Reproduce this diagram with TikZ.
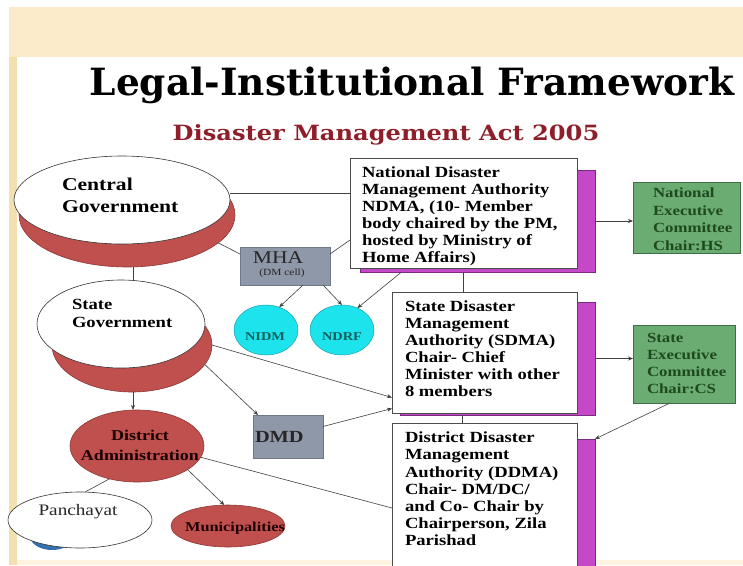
\documentclass[tikz,border=0pt]{standalone}
\usepackage{fontspec}
\usetikzlibrary{shapes.geometric,arrows.meta}
\setmainfont{Liberation Serif}
\newfontfamily\sr[FakeStretch=1.2]{Liberation Serif}
\newfontfamily\ttl{DejaVu Serif}
\newfontfamily\ttlw[FakeStretch=1.15]{DejaVu Serif}
\definecolor{redfill}{HTML}{C0504D}
\definecolor{redline}{HTML}{8C3836}
\definecolor{grayfill}{HTML}{8F98A8}
\definecolor{grayline}{HTML}{6F7888}
\definecolor{purp}{HTML}{C448C8}
\definecolor{purpline}{HTML}{7A2A80}
\definecolor{grn}{HTML}{6AAC72}
\definecolor{grnline}{HTML}{3E6E44}
\definecolor{grntext}{HTML}{1E4A1E}
\definecolor{cyn}{HTML}{1DE4EC}
\definecolor{cynline}{HTML}{1AA0B0}
\definecolor{cyntext}{HTML}{14605E}
\definecolor{ttlred}{HTML}{8E1F2A}
\definecolor{peach}{HTML}{FCEBCA}
\definecolor{strip}{HTML}{F3E0B0}
\definecolor{conn}{HTML}{404040}
\begin{document}
\begin{tikzpicture}[x=1pt,y=-1pt,
  every node/.style={inner sep=0pt, outer sep=0pt},
  redell/.style={ellipse, fill=redfill, draw=redline, line width=0.6pt},
  whiteell/.style={ellipse, fill=white, draw=black!80, line width=0.6pt},
  graybox/.style={rectangle, fill=grayfill, draw=grayline, line width=0.6pt},
  whitebox/.style={rectangle, fill=white, draw=black!70, line width=0.6pt},
  purpbox/.style={rectangle, fill=purp, draw=purpline, line width=0.4pt},
  grnbox/.style={rectangle, fill=grn, draw=grnline, line width=0.6pt},
  cynell/.style={ellipse, fill=cyn, draw=cynline, line width=0.5pt},
  lbl/.style={align=left, anchor=north west, font=\sr\bfseries},
  ln/.style={draw=conn, line width=0.6pt},
  arr/.style={ln, -{Stealth[length=5pt,width=4pt]}}
]
\useasboundingbox (0,0) rectangle (743,565);
% background
\fill[white] (0,0) rectangle (743,565);
\fill[peach] (9,7) rectangle (743,57);
\fill[strip] (9,57) rectangle (17,565);
\fill[white] (17,57) rectangle (743,560);
\fill[peach!60] (17,560) rectangle (743,565);
% titles
\node[anchor=base, font=\ttl\bfseries\fontsize{37.5}{42}\selectfont] (title) at (412,95) {Legal-Institutional Framework};
\node[anchor=base, font=\ttlw\bfseries\fontsize{21}{24}\selectfont, text=ttlred] (subtitle) at (386,140) {Disaster Management Act 2005};

% Central government
\node[redell, minimum width=216pt, minimum height=104pt] (cgr) at (127,215) {};
\node[whiteell, minimum width=216pt, minimum height=88pt] (cg) at (122,200) {};
\node[lbl, font=\sr\bfseries\fontsize{18}{22}\selectfont] (cgt) at (62,178.5) {Central\\Government};

% State government
\node[redell, minimum width=160pt, minimum height=94pt] (sgr) at (132,345) {};
\node[whiteell, minimum width=168pt, minimum height=88pt] (sg) at (121,324) {};
\node[lbl, font=\sr\bfseries\fontsize{15.5}{18}\selectfont] (sgt) at (72,299.5) {State\\Government};

% District administration
\node[redell, minimum width=134pt, minimum height=72pt] (da) at (137,446) {};
\node[align=center, anchor=north, text=black!75!red!40!black, font=\sr\bfseries\fontsize{15}{20}\selectfont] (dat) at (140,430) {District\\Administration};

% Panchayat
\fill[blue!50!cyan!60!black!80] (52,536) ellipse (22pt and 14pt);
\node[whiteell, minimum width=144pt, minimum height=56pt] (pan) at (80,520) {};
\node[font=\sr\fontsize{16}{18}\selectfont, text=black!85] (pant) at (78,512) {Panchayat};

% Municipalities
\node[redell, minimum width=114pt, minimum height=42pt] (mun) at (228,526) {};
\node[font=\sr\bfseries\fontsize{13.6}{16}\selectfont, text=black!70!red!40!black] (munt) at (235,528) {Municipalities};

% MHA
\node[graybox, minimum width=90pt, minimum height=38pt] (mha) at (285,266) {};
\node[font=\sr\fontsize{18}{19}\selectfont, text=black!85] (mhat) at (278,258) {MHA};
\node[font=\sr\fontsize{9.5}{11}\selectfont, text=black!85] (mhac) at (282,273) {(DM cell)};

% DMD
\node[graybox, minimum width=70pt, minimum height=43pt] (dmd) at (288,436.5) {};
\node[anchor=west, font=\sr\bfseries\fontsize{17}{19}\selectfont, text=black!85] (dmdt) at (255,437) {DMD};

% NIDM, NDRF
\node[cynell, minimum width=64pt, minimum height=50pt] (nidm) at (266,330) {};
\node[font=\sr\bfseries\fontsize{12}{14}\selectfont, text=cyntext] (nidmt) at (265,337) {NIDM};
\node[cynell, minimum width=64pt, minimum height=50pt] (ndrf) at (342,330) {};
\node[font=\sr\bfseries\fontsize{12}{14}\selectfont, text=cyntext] (ndrft) at (342,337) {NDRF};

% NDMA
\node[purpbox, minimum width=235pt, minimum height=102pt] (ndmas) at (477.5,221) {};
\node[whitebox, minimum width=227pt, minimum height=110pt] (ndma) at (463.5,213) {};
\node[lbl, font=\sr\bfseries\fontsize{15.5}{17}\selectfont] (ndmat) at (362,167) {National Disaster\\Management Authority\\NDMA, (10- Member\\body chaired by the PM,\\hosted by Ministry of\\Home Affairs)};

% SDMA
\node[purpbox, minimum width=195pt, minimum height=113pt] (sdmas) at (497.5,358.5) {};
\node[whitebox, minimum width=185pt, minimum height=121pt] (sdma) at (484.5,352.5) {};
\node[lbl, font=\sr\bfseries\fontsize{15.5}{17}\selectfont] (sdmat) at (405,301) {State Disaster\\Management\\Authority (SDMA)\\Chair- Chief\\Minister with other\\8 members};

% DDMA
\node[purpbox, minimum width=18pt, minimum height=136pt] (ddmas) at (586,507) {};
\node[whitebox, minimum width=185pt, minimum height=152pt] (ddma) at (484.5,499) {};
\node[lbl, font=\sr\bfseries\fontsize{15.5}{17.2}\selectfont] (ddmat) at (405,432) {District Disaster\\Management\\Authority (DDMA)\\Chair- DM/DC/\\and Co- Chair by\\Chairperson, Zila\\Parishad};

% Executive committees
\node[grnbox, minimum width=107pt, minimum height=71pt] (nec) at (686.5,217.5) {};
\node[lbl, font=\sr\bfseries\fontsize{14}{17.6}\selectfont, text=grntext] (nect) at (653,188) {National\\Executive\\Committee\\Chair:HS};
\node[grnbox, minimum width=102pt, minimum height=78pt] (sec) at (684,364) {};
\node[lbl, font=\sr\bfseries\fontsize{14}{17}\selectfont, text=grntext] (sect) at (647,333) {State\\Executive\\Committee\\Chair:CS};

% connectors
\draw[ln] ([yshift=7pt]cg.east) -- ([yshift=7pt]cg.east -| ndma.west);
\draw[ln] (cgr.-17) -- ([yshift=12pt]mha.west);
\draw[ln] ([yshift=12pt]mha.east) -- ([yshift=-27pt]ndma.west);
\draw[arr] ([xshift=18pt]mha.south) -- (nidm.60);
\draw[arr] ([xshift=38pt]mha.south) -- (ndrf.north);
\draw[arr] ([xshift=-76pt]ndmas.south) -- (ndrf.55);
\draw[ln] (ndmas.south -| ndma.south) -- (ndma.south |- sdma.north);
\draw[arr] (ndmas.east) -- (ndmas.east -| nec.west);
\draw[arr] (sdmas.east) -- (sdmas.east -| sec.west);
\draw[ln] ([xshift=-22pt]sdmas.south -| sdma.south) -- ([xshift=-22pt]sdma.south |- ddma.north);
\draw[arr] ([xshift=-14pt]sec.south) -- (ddmas.north east);
\draw[arr] (sgr.east) -- ([yshift=-45pt]sdma.west);
\draw[arr] (sgr.-15) -- ([xshift=5pt]dmd.north west);
\draw[arr] ([yshift=10pt]dmd.east) -- ([yshift=-56pt]sdma.west);
\draw[arr] ([xshift=1pt]sgr.south) -- ([xshift=1pt]sgr.south |- da.north);
\draw[ln] ([xshift=6pt]cgr.south) -- ([xshift=6pt]cgr.south |- sg.north);
\draw[ln] (da.-10) -- ([yshift=-9pt]ddma.west);
\draw[ln] (da.-130) -- (pan.80);
\draw[arr] (da.-25) -- (mun.100);
\end{tikzpicture}
\end{document}
